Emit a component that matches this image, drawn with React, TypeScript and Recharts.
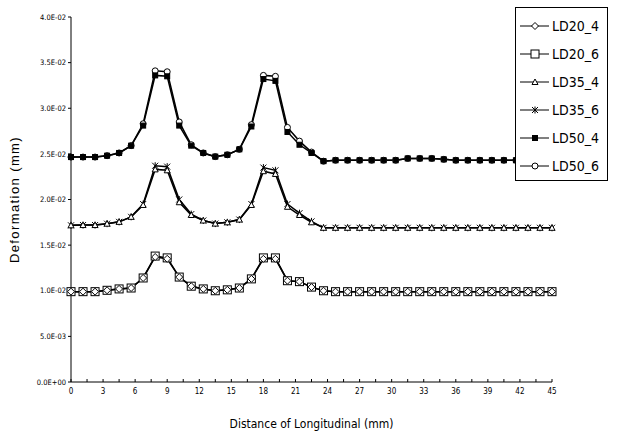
import React from "react";
import { LineChart, Line, XAxis, YAxis } from "recharts";

// distance along the specimen (mm), 41 measuring points
const distance = [
  0, 1.125, 2.25, 3.375, 4.5, 5.625, 6.75, 7.875, 9, 10.125, 11.25, 12.375, 13.5, 14.625,
  15.75, 16.875, 18, 19.125, 20.25, 21.375, 22.5, 23.625, 24.75, 25.875, 27, 28.125, 29.25,
  30.375, 31.5, 32.625, 33.75, 34.875, 36, 37.125, 38.25, 39.375, 40.5, 41.625, 42.75, 43.875, 45,
];

const ld20_4 = [
  0.0099, 0.0099, 0.0099, 0.01005, 0.0102, 0.0103, 0.0114, 0.0137, 0.0135, 0.0115, 0.0105,
  0.0102, 0.01, 0.0101, 0.0103, 0.0113, 0.0135, 0.0135, 0.0111, 0.011, 0.0104, 0.01, 0.0099,
  0.0099, 0.0099, 0.0099, 0.0099, 0.0099, 0.0099, 0.0099, 0.0099, 0.0099, 0.0099, 0.0099,
  0.0099, 0.0099, 0.0099, 0.0099, 0.0099, 0.0099, 0.0099,
];
const ld20_6 = [
  0.0099, 0.0099, 0.0099, 0.01005, 0.0102, 0.0103, 0.0114, 0.0138, 0.0136, 0.0115, 0.0105,
  0.0102, 0.01, 0.0101, 0.0103, 0.0113, 0.0136, 0.0136, 0.0111, 0.011, 0.0104, 0.01, 0.0099,
  0.0099, 0.0099, 0.0099, 0.0099, 0.0099, 0.0099, 0.0099, 0.0099, 0.0099, 0.0099, 0.0099,
  0.0099, 0.0099, 0.0099, 0.0099, 0.0099, 0.0099, 0.0099,
];
const ld35_4 = [
  0.01717, 0.0172, 0.0172, 0.01735, 0.01755, 0.0181, 0.0194, 0.0233, 0.0232, 0.0197, 0.0183,
  0.0177, 0.01736, 0.0175, 0.0178, 0.0194, 0.0231, 0.0228, 0.0192, 0.0183, 0.0175, 0.0169,
  0.0169, 0.0169, 0.0169, 0.0169, 0.0169, 0.0169, 0.0169, 0.0169, 0.0169, 0.0169, 0.0169,
  0.0169, 0.0169, 0.0169, 0.0169, 0.0169, 0.0169, 0.0169, 0.0169,
];
const ld35_6 = [
  0.01717, 0.0172, 0.0172, 0.01735, 0.01755, 0.0181, 0.0195, 0.0237, 0.0236, 0.02, 0.0184,
  0.0177, 0.01736, 0.0175, 0.0178, 0.0195, 0.0235, 0.0232, 0.0195, 0.0185, 0.0176, 0.0169,
  0.0169, 0.0169, 0.0169, 0.0169, 0.0169, 0.0169, 0.0169, 0.0169, 0.0169, 0.0169, 0.0169,
  0.0169, 0.0169, 0.0169, 0.0169, 0.0169, 0.0169, 0.0169, 0.0169,
];
const ld50_4 = [
  0.02465, 0.02465, 0.02465, 0.0248, 0.0251, 0.0259, 0.0281, 0.0336, 0.0335, 0.0281, 0.0259,
  0.0251, 0.0247, 0.0249, 0.0255, 0.028, 0.0332, 0.033, 0.0274, 0.026, 0.0251, 0.0242, 0.0243,
  0.0243, 0.0243, 0.0243, 0.0243, 0.0243, 0.0245, 0.0245, 0.0245, 0.0244, 0.0243, 0.0243,
  0.0243, 0.0243, 0.0243, 0.0243, 0.0243, 0.0243, 0.0243,
];
const ld50_6 = [
  0.02465, 0.02465, 0.02465, 0.0248, 0.0251, 0.0259, 0.0283, 0.0341, 0.034, 0.0285, 0.026,
  0.0251, 0.0247, 0.0249, 0.0255, 0.0282, 0.0336, 0.0335, 0.0279, 0.0264, 0.0252, 0.0242,
  0.0243, 0.0243, 0.0243, 0.0243, 0.0243, 0.0243, 0.0245, 0.0245, 0.0245, 0.0244, 0.0243,
  0.0243, 0.0243, 0.0243, 0.0243, 0.0243, 0.0243, 0.0243, 0.0243,
];

const xTicks = [
  0, 1.5, 3, 4.5, 6, 7.5, 9, 10.5, 12, 13.5, 15, 16.5, 18, 19.5, 21, 22.5, 24, 25.5, 27, 28.5,
  30, 31.5, 33, 34.5, 36, 37.5, 39, 40.5, 42, 43.5, 45,
];
const yTicks = [0, 0.005, 0.01, 0.015, 0.02, 0.025, 0.03, 0.035, 0.04];

const data = distance.map((d, i) => ({
  d,
  ld20_4: ld20_4[i],
  ld20_6: ld20_6[i],
  ld35_4: ld35_4[i],
  ld35_6: ld35_6[i],
  ld50_4: ld50_4[i],
  ld50_6: ld50_6[i],
}));

const NARROW = "'Liberation Sans Narrow', 'DejaVu Sans Condensed', 'Liberation Sans', sans-serif";

function sci(v: number) {
  if (v === 0) return "0.0E+00";
  const [m, e] = v.toExponential(1).split("e");
  const n = parseInt(e, 10);
  return m + "E" + (n < 0 ? "-" : "+") + String(Math.abs(n)).padStart(2, "0");
}

type Shape = "diamond" | "square" | "triangle" | "star" | "fsquare" | "circle";

function Marker({ shape, cx, cy }: { shape: Shape; cx: number; cy: number }) {
  const s = { stroke: "#000", strokeWidth: 1 };
  switch (shape) {
    case "diamond":
      return <polygon points={`${cx},${cy - 3.5} ${cx + 3.5},${cy} ${cx},${cy + 3.5} ${cx - 3.5},${cy}`} fill="#fff" {...s} />;
    case "square":
      return <rect x={cx - 4} y={cy - 4} width={8} height={8} fill="#fff" {...s} />;
    case "triangle":
      return <polygon points={`${cx},${cy - 3} ${cx + 3},${cy + 2.5} ${cx - 3},${cy + 2.5}`} fill="#fff" {...s} />;
    case "star":
      return (
        <g {...s}>
          <line x1={cx - 3} y1={cy - 3} x2={cx + 3} y2={cy + 3} />
          <line x1={cx - 3} y1={cy + 3} x2={cx + 3} y2={cy - 3} />
          <line x1={cx} y1={cy - 3.5} x2={cx} y2={cy + 3.5} />
        </g>
      );
    case "fsquare":
      return <rect x={cx - 2.5} y={cy - 2.5} width={5} height={5} fill="#000" {...s} />;
    default:
      return <circle cx={cx} cy={cy} r={3} fill="#fff" {...s} />;
  }
}

const series: { key: string; name: string; shape: Shape }[] = [
  { key: "ld20_4", name: "LD20_4", shape: "diamond" },
  { key: "ld20_6", name: "LD20_6", shape: "square" },
  { key: "ld35_4", name: "LD35_4", shape: "triangle" },
  { key: "ld35_6", name: "LD35_6", shape: "star" },
  { key: "ld50_4", name: "LD50_4", shape: "fsquare" },
  { key: "ld50_6", name: "LD50_6", shape: "circle" },
];

// draw order: squares under diamonds, circles under filled squares
const drawOrder = ["ld20_6", "ld20_4", "ld35_6", "ld35_4", "ld50_6", "ld50_4"];

export default function App() {
  return (
    <div style={{ position: "absolute", left: 0, top: 0, width: 624, height: 436, background: "#fff" }}>
      <LineChart width={624} height={436} data={data} margin={{ top: 17, right: 72, left: 0, bottom: 0 }}>
        <XAxis
          dataKey="d"
          type="number"
          domain={[0, 45]}
          ticks={xTicks}
          interval={0}
          tickFormatter={(v: number) => (v % 3 === 0 ? String(v) : "")}
          tickSize={-3}
          tickMargin={9}
          height={54}
          axisLine={{ stroke: "#000" }}
          tickLine={{ stroke: "#000" }}
          tick={{ fontSize: 8, fill: "#000", fontFamily: NARROW }}
          label={{ value: "Distance of Longitudinal (mm)", position: "insideBottom", offset: 8, fontSize: 12, fill: "#000", fontFamily: NARROW }}
        />
        <YAxis
          type="number"
          domain={[0, 0.04]}
          ticks={yTicks}
          interval={0}
          tickFormatter={sci}
          width={71}
          tickSize={3}
          tickMargin={2}
          axisLine={{ stroke: "#000" }}
          tickLine={{ stroke: "#000" }}
          tick={{ fontSize: 7.5, fill: "#000", fontFamily: NARROW }}
          label={{ value: "Deformation (mm)", angle: -90, position: "insideLeft", offset: 14, fontSize: 13, fill: "#000", fontFamily: "'Liberation Sans', sans-serif", letterSpacing: 1.4, style: { textAnchor: "middle" } }}
        />
        {drawOrder.map((k) => {
          const s = series.find((x) => x.key === k)!;
          return (
            <Line
              key={k}
              dataKey={k}
              name={s.name}
              type="linear"
              stroke="#000"
              strokeWidth={1.5}
              isAnimationActive={false}
              dot={(p: any) => <Marker key={`${k}-${p.index}`} shape={s.shape} cx={p.cx} cy={p.cy} />}
            />
          );
        })}
      </LineChart>
      <div
        style={{
          position: "absolute",
          left: 515,
          top: 7,
          width: 91,
          height: 172,
          border: "1px solid #000",
          background: "#fff",
        }}
      >
        {series.map((s, i) => (
          <div key={s.key} style={{ position: "absolute", left: 0, top: 6 + i * 28, height: 24, display: "flex", alignItems: "center" }}>
            <svg width={36} height={24} style={{ display: "block" }}>
              <line x1={4} y1={12} x2={33} y2={12} stroke="#000" strokeWidth={1} />
              <Marker shape={s.shape} cx={19} cy={12} />
            </svg>
            <span style={{ fontFamily: NARROW, fontSize: 14, color: "#000", lineHeight: "24px" }}>{s.name}</span>
          </div>
        ))}
      </div>
    </div>
  );
}
